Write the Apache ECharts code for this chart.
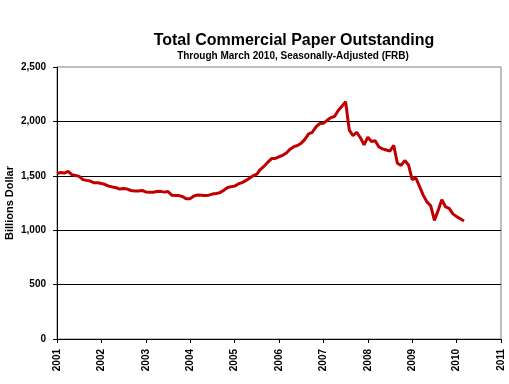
<!DOCTYPE html>
<html>
<head>
<meta charset="utf-8">
<script src="https://cdn.jsdelivr.net/npm/echarts@6/dist/echarts.min.js"></script>
<style>html,body{margin:0;padding:0;background:#fff}#c{width:509px;height:384px}</style>
</head>
<body>
<div id="c"></div>
<script>
// Monthly values, Jan 2001 .. Mar 2010 (billions of dollars)
const startYear = 2001;
const yearTicks = [2001,2002,2003,2004,2005,2006,2007,2008,2009,2010,2011];
const paperOutstanding = [
  1520,1530,1525,1540,1510,1503,1495,1465,1458,1452,1436,1436,
  1430,1420,1405,1397,1390,1378,1384,1378,1365,1360,1360,1365,
  1352,1348,1348,1355,1357,1350,1356,1322,1320,1318,1308,1288,
  1290,1315,1323,1322,1320,1322,1332,1338,1345,1365,1390,1400,
  1405,1425,1437,1455,1478,1500,1516,1560,1590,1625,1658,1660,
  1675,1688,1710,1745,1768,1778,1800,1835,1885,1900,1950,1980,
  1982,2010,2035,2045,2100,2140,2180,1920,1868,1900,1850,1785,
  1855,1815,1822,1765,1748,1737,1728,1780,1615,1595,1640,1600,
  1465,1480,1400,1320,1260,1225,1090,1180,1280,1215,1200,1150,
  1125,1105,1085
];
const yTicks = [0,500,1000,1500,2000,2500];

const font = "'Liberation Sans', Arial, sans-serif";
const chart = echarts.init(document.getElementById('c'), null, {renderer:'canvas'});
chart.setOption({
  animation:false,
  backgroundColor:'#fff',
  title:[
    {text:'Total Commercial Paper Outstanding', left:289, top:28, textAlign:'center',
     textStyle:{fontFamily:font, fontSize:16, fontWeight:'bold', color:'#000'}},
    {text:'Through March 2010, Seasonally-Adjusted (FRB)', left:288, top:46, textAlign:'center',
     textStyle:{fontFamily:font, fontSize:10, fontWeight:'bold', color:'#000'}}
  ],
  grid:{left:57, right:8, top:67, bottom:45, show:true, borderColor:'#808080', borderWidth:1,
        containLabel:false, outerBoundsMode:'none'},
  xAxis:{
    type:'value', min:0, max:(yearTicks.length-1)*12, interval:12,
    axisLine:{show:true, onZero:false, lineStyle:{color:'#000', width:1}},
    axisTick:{show:true, length:4, lineStyle:{color:'#000'}},
    splitLine:{show:false},
    axisLabel:{rotate:90, margin:10, fontFamily:font, fontSize:10, fontWeight:'bold', color:'#000',
      formatter:v=>String(yearTicks[Math.round(v/12)])}
  },
  yAxis:{
    type:'value', min:yTicks[0], max:yTicks[yTicks.length-1], interval:500,
    name:'Billions Dollar', nameLocation:'middle', nameGap:42, nameRotate:90, nameMoveOverlap:false,
    nameTextStyle:{fontFamily:font, fontSize:11, fontWeight:'bold', color:'#000'},
    axisLine:{show:true, lineStyle:{color:'#000', width:1}},
    axisTick:{show:true, length:4, lineStyle:{color:'#000'}},
    splitLine:{show:true, showMinLine:false, showMaxLine:false, lineStyle:{color:'#000', width:1}},
    axisLabel:{margin:11, fontFamily:font, fontSize:10, fontWeight:'bold', color:'#000',
      formatter:v=>v.toLocaleString('en-US')}
  },
  series:[{
    type:'line', showSymbol:false, symbol:'none',
    data:paperOutstanding.map((v,i)=>[i,v]),
    lineStyle:{color:'#c00000', width:3},
    itemStyle:{color:'#c00000'}
  }]
});
</script>
</body>
</html>
